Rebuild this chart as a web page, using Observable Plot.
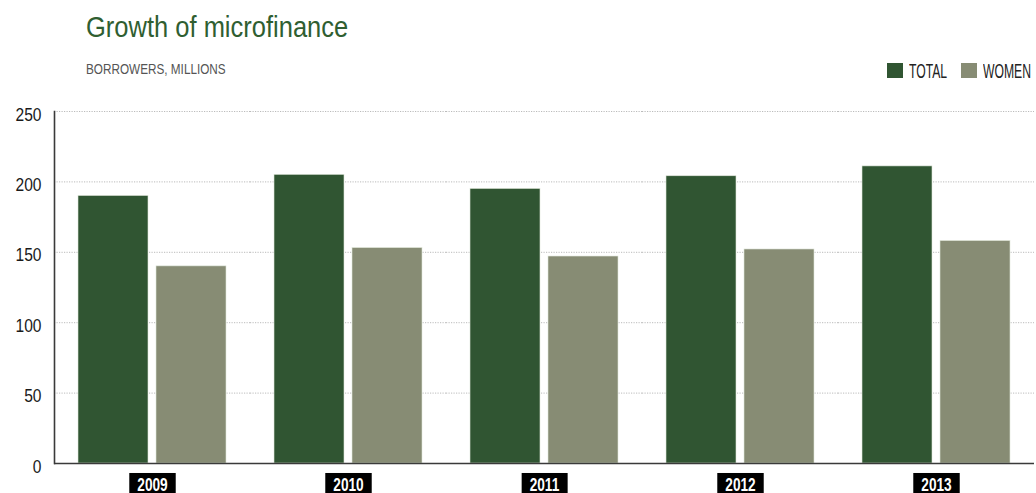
<!DOCTYPE html>
<html>
<head>
<meta charset="utf-8">
<script src="https://cdn.jsdelivr.net/npm/d3@7"></script>
<script src="https://cdn.jsdelivr.net/npm/@observablehq/plot@0.6"></script>
<style>
  html, body { margin: 0; padding: 0; background: #fff; }
  #wrap { position: relative; width: 1036px; height: 493px; overflow: hidden;
          font-family: "Liberation Sans", Arial, sans-serif; }
  #title { position: absolute; left: 86px; top: 12px; font-size: 30px; line-height: 1;
           color: #2f5e31; white-space: nowrap; transform: scaleX(0.85); transform-origin: left center; }
  #subtitle { position: absolute; left: 86px; top: 62px; font-size: 14.5px; line-height: 1;
              color: #555; white-space: nowrap; transform: scaleX(0.81); transform-origin: left center; }
  .sw { position: absolute; top: 63px; width: 16px; height: 15px; }
  .lt { position: absolute; top: 60px; font-size: 21px; line-height: 1; color: #222;
        transform: scaleX(0.58); transform-origin: left center; white-space: nowrap; }
  #chart { position: absolute; left: 0; top: 90px; }
</style>
</head>
<body>
<div id="wrap">
  <div id="title">Growth of microfinance</div>
  <div id="subtitle">BORROWERS, MILLIONS</div>
  <div id="legend"></div>
  <div id="chart"></div>
</div>
<script>
const years = ["2009", "2010", "2011", "2012", "2013"];
const seriesNames = ["TOTAL", "WOMEN"];
const totalValues = [190, 205, 195, 204, 211];
const womenValues = [140, 153, 147, 152, 158];
const yTicks = [0, 50, 100, 150, 200, 250];
const seriesColors = ["#305532", "#878c74"];

const rows = years.flatMap((yr, i) => [
  {year: yr, series: seriesNames[0], value: totalValues[i]},
  {year: yr, series: seriesNames[1], value: womenValues[i]}
]);

// legend (HTML, above the SVG)
const legend = document.getElementById("legend");
const legendPos = [[887, 909], [961, 983]];
seriesNames.forEach((s, i) => {
  const sw = document.createElement("div");
  sw.className = "sw";
  sw.style.left = legendPos[i][0] + "px";
  sw.style.background = seriesColors[i];
  const lt = document.createElement("div");
  lt.className = "lt";
  lt.style.left = legendPos[i][1] + "px";
  lt.textContent = s;
  legend.append(sw, lt);
});

const font = '"Liberation Sans", Arial, sans-serif';

const chart = Plot.plot({
  width: 1036,
  height: 410,
  marginLeft: 52,
  marginRight: 0,
  marginTop: 21,
  marginBottom: 37,
  style: {fontFamily: font, background: "transparent", overflow: "visible"},
  fx: {domain: years, paddingInner: 0, paddingOuter: 0, label: null},
  x: {domain: seriesNames, paddingInner: 0.1, paddingOuter: 0.296, axis: null},
  y: {domain: [0, 250], ticks: yTicks, label: null},
  color: {domain: seriesNames, range: seriesColors},
  marks: [
    Plot.gridY(yTicks, {stroke: "#aaa", strokeOpacity: 0.8, strokeDasharray: "1.2,1.3", strokeWidth: 1}),
    Plot.barY(rows, {fx: "year", x: "series", y: "value", fill: "series", stroke: "#dfe6da", strokeWidth: 0.6}),
    Plot.ruleY([0], {stroke: "#3a3a3a", strokeWidth: 1.6}),
    Plot.frame({anchor: "left", facetAnchor: "left", stroke: "#3a3a3a", strokeWidth: 1.6}),
    Plot.axisY(yTicks, {tickSize: 0, tickPadding: 13, fontSize: 19, fill: "#1a1a1a", dy: 3, label: null}),
    Plot.axisFx({anchor: "bottom", tickSize: 0, tickPadding: 14, fontSize: 19, fontWeight: "bold", fill: "#fff", label: null})
  ]
});

document.getElementById("chart").append(chart);

const yK = 0.82, fxK = 0.72;

// black boxes behind the year labels, then narrow the label glyphs
chart.querySelectorAll('g[aria-label^="fx-axis"] text').forEach(t => {
  const b = t.getBBox();
  const tr = t.getAttribute("transform") || "";
  const r = document.createElementNS("http://www.w3.org/2000/svg", "rect");
  r.setAttribute("x", b.x * fxK - 8);
  r.setAttribute("y", b.y - 1);
  r.setAttribute("width", b.width * fxK + 16);
  r.setAttribute("height", b.height + 6);
  r.setAttribute("fill", "#000");
  r.setAttribute("stroke", "none");
  if (tr) r.setAttribute("transform", tr);
  t.parentNode.insertBefore(r, t);
  t.setAttribute("transform", tr + ` scale(${fxK},1)`);
});

chart.querySelectorAll('g[aria-label^="y-axis"] text').forEach(t => {
  const tr = t.getAttribute("transform") || "";
  t.setAttribute("transform", tr + ` scale(${yK},1)`);
});
</script>
</body>
</html>
